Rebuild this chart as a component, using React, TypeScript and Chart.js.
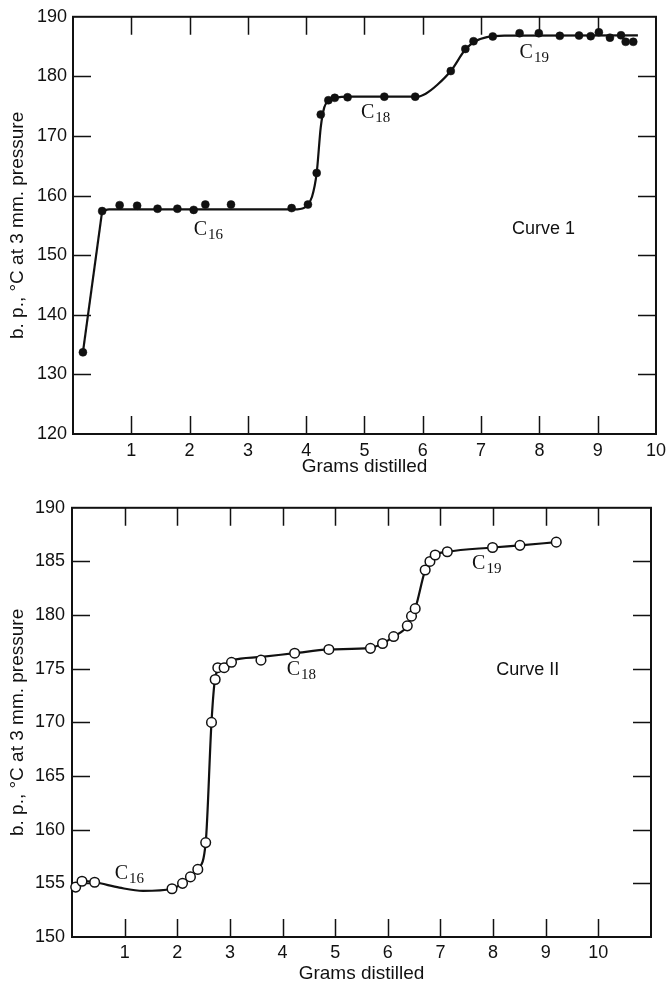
import React, { useEffect, useRef } from 'react';
import { Chart, registerables } from 'chart.js';

Chart.register(...registerables);

// ---------- Curve 1 (filled points) ----------
const c1PointX = [0.17, 0.50, 0.80, 1.10, 1.45, 1.79, 2.07, 2.27, 2.71, 3.75, 4.03, 4.18, 4.25, 4.38, 4.49, 4.71, 5.34, 5.87, 6.48, 6.73, 6.87, 7.20, 7.66, 7.99, 8.35, 8.68, 8.88, 9.02, 9.21, 9.40, 9.48, 9.61];
const c1PointY = [133.7, 157.4, 158.4, 158.3, 157.8, 157.8, 157.6, 158.5, 158.5, 157.9, 158.5, 163.8, 173.6, 176.0, 176.4, 176.5, 176.6, 176.6, 180.9, 184.6, 185.9, 186.7, 187.25, 187.25, 186.8, 186.85, 186.75, 187.4, 186.5, 186.9, 185.8, 185.8];
// straight first rise of curve 1
const c1LeadX = [0.17, 0.50];
const c1LeadY = [133.7, 157.4];
// hand-drawn fitted curve through the rest of curve 1
const c1CurveX = [0.50, 0.62, 3.85, 4.00, 4.10, 4.18, 4.25, 4.31, 4.38, 4.50, 4.75, 5.90, 6.05, 6.25, 6.48, 6.73, 6.90, 7.10, 7.40, 9.69];
const c1CurveY = [157.4, 157.7, 157.7, 158.2, 159.8, 163.8, 171.5, 174.8, 175.9, 176.4, 176.6, 176.6, 177.1, 178.6, 180.9, 184.5, 185.9, 186.6, 186.85, 186.9];
const c1XTicks = [1, 2, 3, 4, 5, 6, 7, 8, 9];
const c1YTicks = [130, 140, 150, 160, 170, 180];

// ---------- Curve II (open points) ----------
const c2PointX = [0.07, 0.19, 0.43, 1.90, 2.10, 2.25, 2.39, 2.54, 2.65, 2.72, 2.77, 2.89, 3.03, 3.59, 4.23, 4.88, 5.67, 5.90, 6.11, 6.37, 6.45, 6.52, 6.71, 6.80, 6.90, 7.13, 7.99, 8.51, 9.20];
const c2PointY = [154.65, 155.2, 155.1, 154.5, 155.0, 155.6, 156.3, 158.8, 170.0, 174.0, 175.1, 175.1, 175.6, 175.8, 176.45, 176.8, 176.9, 177.35, 178.0, 179.0, 179.9, 180.6, 184.2, 185.0, 185.6, 185.9, 186.3, 186.5, 186.8];
const c2CurveX = [0.07, 0.19, 0.43, 0.90, 1.35, 1.90, 2.10, 2.25, 2.39, 2.54, 2.65, 2.71, 2.78, 2.90, 3.05, 3.60, 4.23, 4.88, 5.67, 5.90, 6.11, 6.37, 6.45, 6.52, 6.71, 6.80, 6.90, 7.13, 7.99, 8.51, 9.20];
const c2CurveY = [154.65, 155.2, 155.1, 154.6, 154.3, 154.5, 155.0, 155.6, 156.3, 158.8, 170.0, 173.8, 175.0, 175.4, 175.8, 176.1, 176.45, 176.8, 176.95, 177.35, 178.0, 179.0, 179.9, 180.6, 184.2, 185.0, 185.6, 185.9, 186.3, 186.5, 186.8];
const c2LeadX: number[] = [];
const c2LeadY: number[] = [];
const c2XTicks = [1, 2, 3, 4, 5, 6, 7, 8, 9, 10];
const c2YTicks = [155, 160, 165, 170, 175, 180, 185];

// annotations (data coordinates)
const c1Notes = [
  { main: 'C', sub: '16', x: 2.07, y: 153.4 },
  { main: 'C', sub: '18', x: 4.94, y: 173.0 },
  { main: 'C', sub: '19', x: 7.66, y: 183.1 },
];
const c2Notes = [
  { main: 'C', sub: '16', x: 0.81, y: 155.4 },
  { main: 'C', sub: '18', x: 4.08, y: 174.4 },
  { main: 'C', sub: '19', x: 7.60, y: 184.3 },
];
const c1Caption = { text: 'Curve 1', x: 8.07, y: 153.6 };
const c2Caption = { text: 'Curve II', x: 8.66, y: 174.4 };

const SANS = '"Liberation Sans", Arial, sans-serif';
const SERIF = '"Liberation Serif", "Times New Roman", serif';
const INK = '#111111';

const pairs = (xs: number[], ys: number[]) => xs.map((x, i) => ({ x, y: ys[i] }));

const framePlugin = {
  id: 'frameTicks',
  beforeDatasetsDraw(chart: any, _args: any, opts: any) {
    const { ctx, chartArea: a, scales } = chart;
    const x = scales.x;
    const y = scales.y;
    const L = 18;
    ctx.save();
    ctx.strokeStyle = INK;
    ctx.lineWidth = 1.5;
    ctx.beginPath();
    for (const v of opts.xTicks) {
      const px = Math.round(x.getPixelForValue(v)) + 0.5;
      ctx.moveTo(px, a.top);
      ctx.lineTo(px, a.top + L);
      ctx.moveTo(px, a.bottom);
      ctx.lineTo(px, a.bottom - L);
    }
    for (const v of opts.yTicks) {
      const py = Math.round(y.getPixelForValue(v)) + 0.5;
      ctx.moveTo(a.left, py);
      ctx.lineTo(a.left + L, py);
      ctx.moveTo(a.right, py);
      ctx.lineTo(a.right - L, py);
    }
    ctx.stroke();
    ctx.lineWidth = 2;
    ctx.strokeRect(a.left, a.top, a.right - a.left, a.bottom - a.top);
    ctx.restore();
  },
  afterDatasetsDraw(chart: any, _args: any, opts: any) {
    const { ctx, scales } = chart;
    const x = scales.x;
    const y = scales.y;
    ctx.save();
    ctx.fillStyle = INK;
    ctx.textBaseline = 'alphabetic';
    for (const n of opts.notes) {
      const px = x.getPixelForValue(n.x);
      const py = y.getPixelForValue(n.y);
      ctx.textAlign = 'left';
      ctx.font = `20px ${SERIF}`;
      ctx.fillText(n.main, px, py);
      const w = ctx.measureText(n.main).width;
      ctx.font = `15px ${SERIF}`;
      ctx.fillText(n.sub, px + w + 1, py + 4);
    }
    const c = opts.caption;
    ctx.textAlign = 'center';
    ctx.font = `18px ${SANS}`;
    ctx.fillText(c.text, x.getPixelForValue(c.x), y.getPixelForValue(c.y));
    ctx.restore();
  },
};

function makeConfig(p: any) {
  const datasets: any[] = [
    {
      data: pairs(p.pointX, p.pointY),
      showLine: false,
      pointRadius: p.radius,
      pointBackgroundColor: p.fill,
      pointBorderColor: INK,
      pointBorderWidth: p.borderW,
      clip: false,
    },
    {
      data: pairs(p.curveX, p.curveY),
      showLine: true,
      borderColor: INK,
      borderWidth: 2.2,
      pointRadius: 0,
      cubicInterpolationMode: 'monotone',
      clip: false,
    },
  ];
  if (p.leadX.length) {
    datasets.push({
      data: pairs(p.leadX, p.leadY),
      showLine: true,
      borderColor: INK,
      borderWidth: 2.2,
      pointRadius: 0,
      tension: 0,
      clip: false,
    });
  }
  return {
    type: 'scatter',
    data: { datasets },
    options: {
      responsive: false,
      animation: false,
      devicePixelRatio: 1,
      layout: { padding: { top: p.top, right: p.right, left: 0, bottom: 0 } },
      plugins: {
        legend: { display: false },
        tooltip: { enabled: false },
        frameTicks: { xTicks: p.xTicks, yTicks: p.yTicks, notes: p.notes, caption: p.caption },
      },
      scales: {
        x: {
          type: 'linear',
          min: 0,
          max: p.xMax,
          grid: { display: false, drawTicks: false },
          border: { display: false },
          afterFit: (s: any) => { s.height = p.xAxisH; },
          ticks: {
            stepSize: 1,
            autoSkip: false,
            maxRotation: 0,
            padding: p.xPad,
            color: INK,
            font: { family: SANS, size: 18 },
            callback: (v: number) => (v === 0 || v > 10 ? '' : String(v)),
          },
          title: {
            display: true,
            text: 'Grams distilled',
            color: INK,
            font: { family: SANS, size: 19 },
            padding: { top: 0, bottom: p.xTitlePad },
          },
        },
        y: {
          type: 'linear',
          min: p.yMin,
          max: 190,
          grid: { display: false, drawTicks: false },
          border: { display: false },
          afterFit: (s: any) => { s.width = p.yAxisW; },
          ticks: {
            stepSize: p.yStep,
            autoSkip: false,
            padding: p.yPad,
            color: INK,
            font: { family: SANS, size: 18 },
          },
          title: {
            display: true,
            text: 'b. p., °C at 3 mm. pressure',
            color: INK,
            font: { family: SANS, size: 19 },
            padding: { top: 6, bottom: 0 },
          },
        },
      },
    },
    plugins: [framePlugin],
  } as any;
}

export default function App() {
  const ref1 = useRef<HTMLCanvasElement>(null);
  const ref2 = useRef<HTMLCanvasElement>(null);

  useEffect(() => {
    const ch1 = new Chart(ref1.current as HTMLCanvasElement, makeConfig({
      curveX: c1CurveX, curveY: c1CurveY, pointX: c1PointX, pointY: c1PointY,
      leadX: c1LeadX, leadY: c1LeadY,
      radius: 4, fill: INK, borderW: 0.5,
      xTicks: c1XTicks, yTicks: c1YTicks, notes: c1Notes, caption: c1Caption,
      top: 14, right: 11, xMax: 10, xAxisH: 56, xPad: 6, xTitlePad: 12,
      yMin: 120, yStep: 10, yAxisW: 73, yPad: 6,
    }));
    const ch2 = new Chart(ref2.current as HTMLCanvasElement, makeConfig({
      curveX: c2CurveX, curveY: c2CurveY, pointX: c2PointX, pointY: c2PointY,
      leadX: c2LeadX, leadY: c2LeadY,
      radius: 4.8, fill: '#ffffff', borderW: 1.5,
      xTicks: c2XTicks, yTicks: c2YTicks, notes: c2Notes, caption: c2Caption,
      top: 14, right: 21, xMax: 11, xAxisH: 47, xPad: 5, xTitlePad: -1,
      yMin: 150, yStep: 5, yAxisW: 72, yPad: 7,
    }));
    return () => {
      ch1.destroy();
      ch2.destroy();
    };
  }, []);

  return (
    <div style={{ position: 'absolute', left: 0, top: 0, width: 672, height: 984, overflow: 'hidden', background: '#fff' }}>
      <canvas ref={ref1} width={672} height={490} style={{ position: 'absolute', left: 0, top: 0, display: 'block' }} />
      <canvas ref={ref2} width={672} height={494} style={{ position: 'absolute', left: 0, top: 490, display: 'block' }} />
    </div>
  );
}
